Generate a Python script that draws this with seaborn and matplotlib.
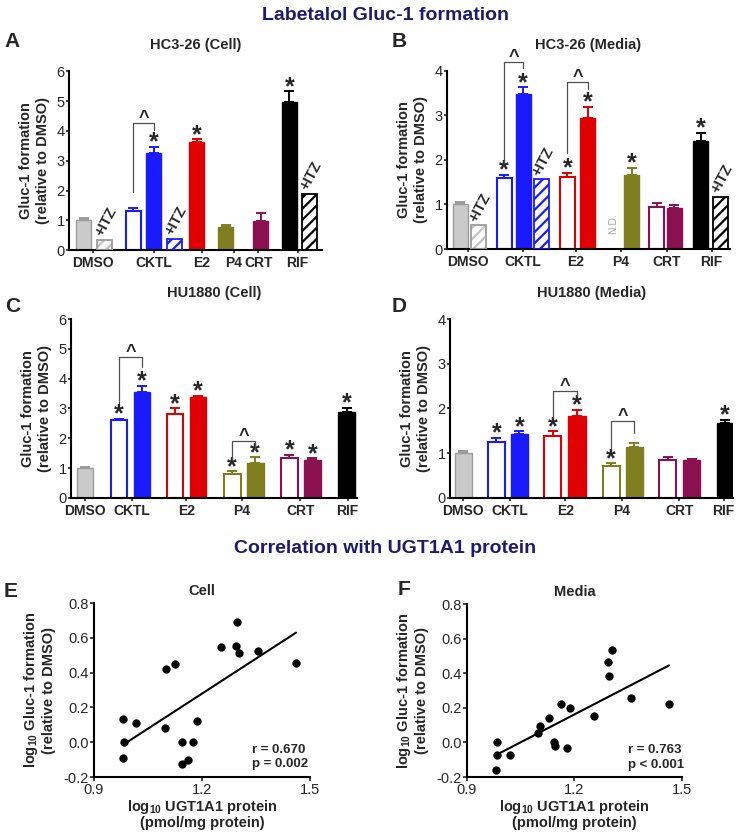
import numpy as np
import pandas as pd
import matplotlib.pyplot as plt
import seaborn as sns

sns.set_style("ticks")
plt.rcParams["font.family"] = ["Liberation Sans", "DejaVu Sans"]
plt.rcParams["mathtext.fontset"] = "custom"
plt.rcParams["mathtext.rm"] = "Liberation Sans"
plt.rcParams["mathtext.bf"] = "Liberation Sans:bold"
plt.rcParams["hatch.linewidth"] = 1.6
plt.rcParams["axes.edgecolor"] = "black"

NAVY = "#1b1b70"

# ---- bar panels, Gluc-1 formation relative to DMSO (mean, upper SD)
group_labels = ["DMSO", "CKTL", "E2", "P4", "CRT", "RIF"]

hc_cell_vals = [1.00, 0.34, 1.31, 3.27, 0.39, 3.62, 0.78, 0.99, 4.96, 1.88]
hc_cell_errs = [0.09, 0.00, 0.11, 0.20, 0.00, 0.10, 0.05, 0.27, 0.37, 0.00]

hc_media_vals = [1.00, 0.53, 1.60, 3.47, 1.56, 1.62, 2.95, np.nan, 1.67, 0.95, 0.93, 2.42, 1.17]
hc_media_errs = [0.06, 0.00, 0.07, 0.16, 0.00, 0.09, 0.24, 0.00, 0.15, 0.09, 0.06, 0.19, 0.00]

hu_cell_vals = [1.00, 2.62, 3.56, 2.82, 3.37, 0.80, 1.17, 1.33, 1.27, 2.87]
hu_cell_errs = [0.04, 0.04, 0.21, 0.18, 0.06, 0.09, 0.20, 0.12, 0.06, 0.16]

hu_media_vals = [1.00, 1.24, 1.43, 1.39, 1.84, 0.71, 1.15, 0.86, 0.84, 1.67]
hu_media_errs = [0.06, 0.11, 0.06, 0.10, 0.13, 0.07, 0.08, 0.06, 0.03, 0.08]

# ---- correlation panels, log10 values
cell_ugt = [0.981, 0.983, 0.981, 1.016, 1.101, 1.126, 1.097, 1.143, 1.143,
            1.160, 1.175, 1.185, 1.252, 1.293, 1.296, 1.303, 1.355, 1.461]
cell_gluc = [0.136, 0.000, -0.090, 0.112, 0.419, 0.450, 0.083, 0.000, -0.125,
             -0.104, 0.000, 0.123, 0.550, 0.556, 0.690, 0.512, 0.527, 0.458]

media_ugt = [0.985, 0.983, 0.982, 1.021, 1.099, 1.104, 1.129, 1.144, 1.146,
             1.162, 1.178, 1.188, 1.255, 1.294, 1.297, 1.305, 1.357, 1.464]
media_gluc = [0.001, -0.070, -0.160, -0.072, 0.055, 0.094, 0.140, 0.000, -0.020,
              0.225, -0.033, 0.200, 0.150, 0.467, 0.382, 0.535, 0.258, 0.224]

# colours: (fill, edge)
PALETTE = {
    "gray": ("#cacaca", "#9c9c9c"),
    "blue": ("#1a1aff", "#1a1aff"),
    "red": ("#e00000", "#e00000"),
    "olive": ("#7f7f1f", "#7f7f1f"),
    "maroon": ("#8a1050", "#8a1050"),
    "black": ("#000000", "#000000"),
}

# bar looks per panel
hc_cell_cols = ["gray", "gray", "blue", "blue", "blue", "red", "olive", "maroon", "black", "black"]
hc_cell_kinds = ["fill", "itz", "open", "fill", "itz", "fill", "fill", "fill", "fill", "itz"]
hc_media_cols = ["gray", "gray", "blue", "blue", "blue", "red", "red", "olive", "olive",
                 "maroon", "maroon", "black", "black"]
hc_media_kinds = ["fill", "itz", "open", "fill", "itz", "open", "fill", "open", "fill",
                  "open", "fill", "fill", "itz"]
hu_cols = ["gray", "blue", "blue", "red", "red", "olive", "olive", "maroon", "maroon", "black"]
hu_kinds = ["fill", "open", "fill", "open", "fill", "open", "fill", "open", "fill", "fill"]

# slot positions of bars and group labels along the x axis
hc_cell_pos = [0, 1, 2.4, 3.4, 4.4, 5.5, 6.9, 8.6, 10, 11]
hc_cell_ticks = [0.45, 3.4, 5.75, 7.3, 8.5, 10.4]
hc_media_pos = [0, 0.97, 2.26, 3.23, 4.2, 5.5, 6.56, 7.85, 8.82, 10.1, 11.0, 12.36, 13.38]
hc_media_ticks = [0.4, 3.23, 5.95, 8.25, 10.6, 12.9]
hu_cell_pos = [0, 1.48, 2.48, 3.91, 4.91, 6.39, 7.39, 8.87, 9.87, 11.35]
hu_cell_ticks = [0, 2.05, 4.4, 6.8, 9.35, 11.4]
hu_media_pos = [0, 1.42, 2.4, 3.82, 4.85, 6.31, 7.3, 8.71, 9.74, 11.16]
hu_media_ticks = [0, 2.0, 4.35, 6.75, 9.2, 11.1]

# significance marks: bar indices with *, +ITZ labels, brackets (i, j, top, left foot, right foot)
hc_cell_stars = [3, 5, 8]
hc_cell_itz = [1, 4, 9]
hc_cell_brackets = [(2, 3, 4.28, 1.96, 4.04)]
hc_media_stars = [2, 3, 5, 6, 8, 11]
hc_media_itz = [1, 4, 12]
hc_media_brackets = [(2, 3, 4.20, 1.92, 4.07), (5, 6, 3.74, 2.15, 3.60)]
hu_cell_stars = [1, 2, 3, 4, 5, 6, 7, 8, 9]
hu_cell_brackets = [(1, 2, 4.72, 3.18, 4.40), (5, 6, 1.92, 1.28, 1.62)]
hu_media_stars = [1, 2, 3, 4, 5, 9]
hu_media_brackets = [(3, 4, 2.40, 1.78, 2.27), (5, 6, 1.71, 1.12, 1.45)]


def draw_bars(ax, pos, vals, errs, cols, kinds, width):
    for x, v, e, c, k in zip(pos, vals, errs, cols, kinds):
        if np.isnan(v):
            continue
        fill, edge = PALETTE[c]
        if k == "fill":
            ax.bar(x, v, width, color=fill, edgecolor=edge, linewidth=1.0, zorder=2)
        elif k == "open":
            ax.bar(x, v, width, color="white", edgecolor=edge, linewidth=1.5, zorder=2)
        else:
            hcol = "#c4c4c4" if c == "gray" else fill
            ax.bar(x, v, width, color="white", edgecolor=hcol, hatch="///", linewidth=0, zorder=2)
            ax.bar(x, v, width, fill=False, edgecolor=edge, linewidth=1.3, zorder=3)
        if e > 0:
            ax.errorbar(x, v, yerr=[[0], [e]], fmt="none", ecolor=edge, elinewidth=1.4,
                        capsize=3.5, capthick=1.4, zorder=1)


def mark_star(ax, x, y):
    ax.annotate("*", (x, y), xytext=(0, -2), textcoords="offset points", ha="center",
                va="baseline", fontsize=18, fontweight="bold", annotation_clip=False)


def mark_itz(ax, x, y):
    ax.annotate("+ITZ", (x, y), xytext=(1, 1), textcoords="offset points", rotation=62,
                ha="center", va="bottom", fontsize=10.5, fontweight="bold")


def bracket(ax, x1, x2, y, y1, y2):
    ax.plot([x1, x1, x2, x2], [y1, y, y, y2], color="#505050", lw=0.9, clip_on=False, zorder=4)
    ax.annotate("^", ((x1 + x2) / 2, y), xytext=(0, 0), textcoords="offset points",
                ha="center", va="baseline", fontsize=13, fontweight="bold", annotation_clip=False)


def style_bar_ax(ax, ymax, xlim, ticks, title):
    ax.set_ylim(0, ymax)
    ax.set_yticks(range(ymax + 1))
    ax.set_xlim(*xlim)
    ax.set_xticks(ticks)
    ax.set_xticklabels(group_labels, fontweight="bold", fontsize=10)
    ax.set_ylabel("Gluc-1 formation\n(relative to DMSO)", fontweight="bold", fontsize=10.5,
                  labelpad=5, linespacing=1.25)
    sns.despine(ax=ax)
    for s in ["left", "bottom"]:
        ax.spines[s].set_linewidth(1.5)
    ax.tick_params(axis="y", length=2.5, width=1.2, pad=0.5, labelsize=10.5)
    ax.tick_params(axis="x", length=2.5, width=1.2, pad=1.5)
    ax.set_title(title, fontweight="bold", fontsize=10.5, pad=16)


def bar_panel(ax, pos, vals, errs, cols, kinds, width, stars, itz, brackets):
    draw_bars(ax, pos, vals, errs, cols, kinds, width)
    for i in stars:
        mark_star(ax, pos[i], vals[i] + errs[i])
    for i in itz:
        mark_itz(ax, pos[i], vals[i])
    for i, j, y, y1, y2 in brackets:
        bracket(ax, pos[i], pos[j], y, y1, y2)


fig = plt.figure(figsize=(7.38, 8.34), dpi=100)

axA = fig.add_axes([0.0935, 0.700, 0.343, 0.2146])
bar_panel(axA, hc_cell_pos, hc_cell_vals, hc_cell_errs, hc_cell_cols, hc_cell_kinds, 0.73,
          hc_cell_stars, hc_cell_itz, hc_cell_brackets)
style_bar_ax(axA, 6, (-0.73, 11.6), hc_cell_ticks, "HC3-26 (Cell)")

axB = fig.add_axes([0.6057, 0.7014, 0.3835, 0.2138])
bar_panel(axB, hc_media_pos, hc_media_vals, hc_media_errs, hc_media_cols, hc_media_kinds, 0.77,
          hc_media_stars, hc_media_itz, hc_media_brackets)
axB.text(hc_media_pos[7], 0.33, "N.D.", rotation=90, ha="center", va="bottom",
         fontsize=7.5, color="#a8a8a8")
style_bar_ax(axB, 4, (-0.67, 13.85), hc_media_ticks, "HC3-26 (Media)")

axC = fig.add_axes([0.0962, 0.4029, 0.3875, 0.2146])
bar_panel(axC, hu_cell_pos, hu_cell_vals, hu_cell_errs, hu_cols, hu_kinds, 0.72,
          hu_cell_stars, [], hu_cell_brackets)
style_bar_ax(axC, 6, (-0.6, 11.8), hu_cell_ticks, "HU1880 (Cell)")

axD = fig.add_axes([0.6098, 0.4029, 0.3835, 0.2146])
bar_panel(axD, hu_media_pos, hu_media_vals, hu_media_errs, hu_cols, hu_kinds, 0.73,
          hu_media_stars, [], hu_media_brackets)
style_bar_ax(axD, 4, (-0.56, 11.5), hu_media_ticks, "HU1880 (Media)")


def scatter_panel(ax, x, y, title, rtxt, ptxt, tx):
    df = pd.DataFrame({"ugt": x, "gluc": y})
    sns.regplot(data=df, x="ugt", y="gluc", ax=ax, ci=None, color="black",
                scatter_kws={"s": 36, "linewidths": 0, "alpha": 1},
                line_kws={"lw": 1.5})
    ax.set_xlim(0.9, 1.5)
    ax.set_ylim(-0.2, 0.8)
    ax.set_xticks([0.9, 1.2, 1.5])
    ax.set_yticks([-0.2, 0.0, 0.2, 0.4, 0.6, 0.8])
    ax.set_yticklabels(["-0.2", "0.0", "0.2", "0.4", "0.6", "0.8"])
    ax.set_xlabel("log$_{\\mathbf{10}}$ UGT1A1 protein\n(pmol/mg protein)", fontweight="bold",
                  fontsize=10.5, labelpad=1, linespacing=1.0)
    ax.set_ylabel("log$_{\\mathbf{10}}$ Gluc-1 formation\n(relative to DMSO)", fontweight="bold",
                  fontsize=10.5, labelpad=5)
    sns.despine(ax=ax)
    for s in ["left", "bottom"]:
        ax.spines[s].set_linewidth(1.5)
    ax.tick_params(length=3, width=1.2, pad=1, labelsize=10.5)
    ax.set_title(title, fontweight="bold", fontsize=10.5, pad=6)
    ax.text(tx, 0.14, rtxt, transform=ax.transAxes, ha="left", va="baseline",
            fontsize=9.5, fontweight="bold")
    ax.text(tx, 0.055, ptxt, transform=ax.transAxes, ha="left", va="baseline",
            fontsize=9.5, fontweight="bold")


axE = fig.add_axes([0.1274, 0.0683, 0.2927, 0.2086])
scatter_panel(axE, cell_ugt, cell_gluc, "Cell", "r = 0.670", "p = 0.002", 0.731)

axF = fig.add_axes([0.6328, 0.0683, 0.2913, 0.2074])
scatter_panel(axF, media_ugt, media_gluc, "Media", "r = 0.763", "p < 0.001", 0.749)

# headings and panel letters
fig.text(0.522, 1 - 20 / 834, "Labetalol Gluc-1 formation", ha="center", va="baseline",
         fontsize=14, fontweight="bold", color=NAVY)
fig.text(0.522, 1 - 553 / 834, "Correlation with UGT1A1 protein", ha="center", va="baseline",
         fontsize=14, fontweight="bold", color=NAVY)
for letter, px, py in [("A", 4, 47), ("B", 392, 47), ("C", 5, 312), ("D", 392, 312),
                       ("E", 4, 597), ("F", 398, 595)]:
    fig.text(px / 738, 1 - py / 834, letter, ha="left", va="baseline", fontsize=15,
             fontweight="bold")

plt.savefig("out.png", dpi=100)
